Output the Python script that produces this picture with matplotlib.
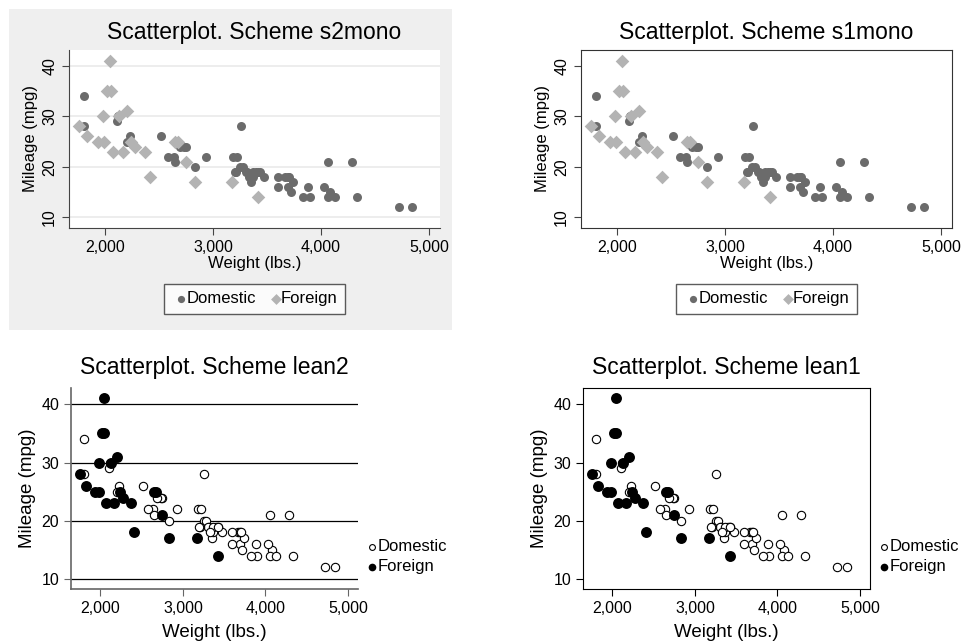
import numpy as np
import matplotlib.pyplot as plt
from matplotlib.patches import Rectangle

plt.rcParams['font.family'] = ['Liberation Sans', 'DejaVu Sans']

# auto data: weight (lbs.) and mileage (mpg)
dom_weight = [2930, 3350, 2640, 3250, 4080, 3670, 2230, 3280, 3880, 3400,
              4330, 3900, 4290, 2110, 3690, 3180, 3220, 2750, 3430, 2120,
              3600, 3600, 3740, 1800, 2650, 4840, 4720, 3830, 2580, 4060,
              3720, 3370, 4130, 2830, 4060, 3310, 3300, 3690, 3370, 2730,
              4030, 3260, 1800, 2200, 2520, 3330, 3700, 3470, 3210, 3200,
              3420, 2690]
dom_mpg = [22, 17, 22, 20, 15, 18, 26, 20, 16, 19,
           14, 14, 21, 29, 16, 22, 22, 24, 19, 30,
           18, 16, 17, 28, 21, 12, 12, 14, 22, 14,
           15, 18, 14, 20, 21, 19, 19, 18, 19, 24,
           16, 28, 34, 25, 26, 18, 18, 18, 19, 19,
           19, 24]
for_weight = [2830, 2070, 2650, 2370, 2020, 2280, 2750, 2130, 2240, 1760,
              1980, 3420, 1830, 2050, 2410, 2200, 2670, 2160, 2040, 1930,
              1990, 3170]
for_mpg = [17, 23, 25, 23, 35, 24, 21, 30, 25, 28,
           30, 14, 26, 35, 18, 31, 25, 23, 41, 25,
           25, 17]

titles = ['Scatterplot. Scheme s2mono', 'Scatterplot. Scheme s1mono',
          'Scatterplot. Scheme lean2', 'Scatterplot. Scheme lean1']
x_ticks = [2000, 3000, 4000, 5000]
x_ticklabels = ['2,000', '3,000', '4,000', '5,000']
y_ticks = [10, 20, 30, 40]

W, H = 964, 643
fig = plt.figure(figsize=(W / 100, H / 100), dpi=100)


def px_axes(l, t, r, b):
    return fig.add_axes([l / W, 1 - b / H, (r - l) / W, (b - t) / H])


# gray panel behind s2mono
fig.patches.append(Rectangle((9 / W, 1 - 330 / H), 443 / W, 321 / H,
                             transform=fig.transFigure, facecolor='#efefef',
                             edgecolor='none', zorder=-10))

# ---- top row: s2mono / s1mono ----
for i, (l, r) in enumerate([(69, 440), (581, 952)]):
    ax = px_axes(l, 50, r, 228)
    ax.set_zorder(2)
    ax.set_facecolor('white')
    ax.scatter(dom_weight, dom_mpg, s=42, color='#6b6b6b', marker='o',
               linewidths=0, label='Domestic', zorder=3)
    ax.scatter(for_weight, for_mpg, s=48, color='#b3b3b3', marker='D',
               linewidths=0, label='Foreign', zorder=3)
    ax.set_xlim(1664, 5102)
    ax.set_ylim(7.9, 43.1)
    ax.set_xticks(x_ticks, x_ticklabels, fontsize=11.5)
    ax.set_yticks(y_ticks, [str(v) for v in y_ticks], fontsize=11.5,
                  rotation=90, va='center')
    ax.tick_params(direction='out', length=5, width=0.8, color='#444444')
    ax.set_xlabel('Weight (lbs.)', fontsize=12, labelpad=1)
    ax.set_ylabel('Mileage (mpg)', fontsize=12, labelpad=3)
    ax.set_title(titles[i], fontsize=16.5, pad=8)
    if i == 0:
        ax.grid(axis='y', color='#eaeaea', linewidth=1.2, zorder=0)
        ax.spines['top'].set_visible(False)
        ax.spines['right'].set_visible(False)
        for s in ['left', 'bottom']:
            ax.spines[s].set_color('#444444')
    else:
        for s in ax.spines.values():
            s.set_color('#333333')
    leg = ax.legend(loc='upper center', bbox_to_anchor=(0.5, -0.265), ncol=2,
                    fontsize=12, frameon=True, fancybox=False,
                    handletextpad=-0.3, columnspacing=0.6, borderpad=0.45,
                    handlelength=1.2, markerscale=0.8)
    leg.get_frame().set_edgecolor('#333333')
    leg.get_frame().set_linewidth(1.0)

# ---- bottom row: lean2 / lean1 ----
for i, (l, r) in enumerate([(71, 358), (583, 870)]):
    ax = px_axes(l, 388, r, 589)
    ax.scatter(dom_weight, dom_mpg, s=36, facecolors='white',
               edgecolors='black', linewidths=0.8, marker='o',
               label='Domestic', zorder=3)
    ax.scatter(for_weight, for_mpg, s=62, color='black', marker='o',
               linewidths=0, label='Foreign', zorder=3)
    ax.set_xlim(1645, 5120)
    ax.set_ylim(8.3, 42.8)
    ax.set_xticks(x_ticks, x_ticklabels, fontsize=11.5)
    ax.set_yticks(y_ticks, [str(v) for v in y_ticks], fontsize=11.5)
    ax.tick_params(direction='out', length=5, width=0.8)
    ax.set_xlabel('Weight (lbs.)', fontsize=13.5, labelpad=6)
    ax.set_ylabel('Mileage (mpg)', fontsize=13.5, labelpad=4)
    ax.set_title(titles[2 + i], fontsize=16.5, pad=10)
    if i == 0:
        ax.grid(axis='y', color='black', linewidth=0.9, zorder=0)
        ax.spines['top'].set_visible(False)
        ax.spines['right'].set_visible(False)
        for s in ['left', 'bottom']:
            ax.spines[s].set_color('#666666')
            ax.spines[s].set_linewidth(1.2)
        ax.tick_params(color='#666666')
    else:
        for s in ax.spines.values():
            s.set_color('black')
    leg = ax.legend(loc='center left', bbox_to_anchor=(0.98, 0.16),
                    fontsize=12, frameon=False, handletextpad=-0.3,
                    labelspacing=0.3, handlelength=1.2, markerscale=0.7,
                    borderaxespad=0.2)

fig.savefig('out.png', dpi=100)
